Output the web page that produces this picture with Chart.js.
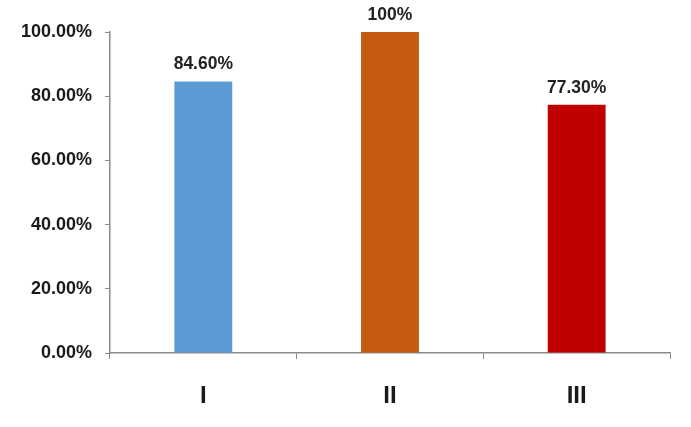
<!DOCTYPE html>
<html>
<head>
<meta charset="utf-8">
<script src="https://cdn.jsdelivr.net/npm/chart.js@4/dist/chart.umd.min.js"></script>
<style>
  html, body { margin: 0; padding: 0; background: #fff; }
  #wrap { width: 691px; height: 427px; }
</style>
</head>
<body>
<div id="wrap"><canvas id="barChart" width="691" height="427"></canvas></div>
<script>
// Chart data
const categories = ["I", "II", "III"];
const values = [84.6, 100, 77.3];
const valueLabels = ["84.60%", "100%", "77.30%"];
const barColors = ["#5B9BD5", "#C55A11", "#C00000"];

// Draw the value above each bar
const valueLabelPlugin = {
  id: "valueLabels",
  afterDatasetsDraw(chart) {
    const ctx = chart.ctx;
    const meta = chart.getDatasetMeta(0);
    ctx.save();
    ctx.font = "bold 17.5px 'Liberation Sans', Arial, sans-serif";
    ctx.fillStyle = "#222222";
    ctx.textAlign = "center";
    ctx.textBaseline = "alphabetic";
    meta.data.forEach((bar, i) => {
      ctx.fillText(valueLabels[i], bar.x, bar.y - 12);
    });
    ctx.restore();
  },
};

const ctx = document.getElementById("barChart").getContext("2d");
new Chart(ctx, {
  type: "bar",
  data: {
    labels: categories,
    datasets: [
      {
        data: values,
        backgroundColor: barColors,
        borderWidth: 0,
        barPercentage: 0.31,
        categoryPercentage: 1,
      },
    ],
  },
  options: {
    responsive: false,
    animation: false,
    layout: {
      padding: { top: 32, right: 21, bottom: 0, left: 0 },
    },
    plugins: {
      legend: { display: false },
      tooltip: { enabled: false },
    },
    scales: {
      x: {
        grid: {
          display: true,
          drawOnChartArea: false,
          drawTicks: true,
          tickLength: 6,
          color: "#8a8a8a",
          offset: true,
        },
        border: { color: "#8a8a8a", width: 1.5 },
        ticks: {
          color: "#1a1a1a",
          padding: 23,
          font: { family: "'Liberation Sans', Arial, sans-serif", size: 24, weight: "bold" },
        },
        afterFit(scale) {
          scale.height = 74;
        },
      },
      y: {
        min: 0,
        max: 100,
        grid: {
          display: true,
          drawOnChartArea: false,
          drawTicks: true,
          tickLength: 5,
          color: "#8a8a8a",
        },
        border: { color: "#8a8a8a", width: 1.5 },
        ticks: {
          stepSize: 20,
          color: "#1a1a1a",
          padding: 13,
          font: { family: "'Liberation Sans', Arial, sans-serif", size: 18, weight: "bold" },
          callback: function (value) {
            return value.toFixed(2) + "%";
          },
        },
        afterFit(scale) {
          scale.width = 110;
        },
      },
    },
  },
  plugins: [valueLabelPlugin],
});
</script>
</body>
</html>
